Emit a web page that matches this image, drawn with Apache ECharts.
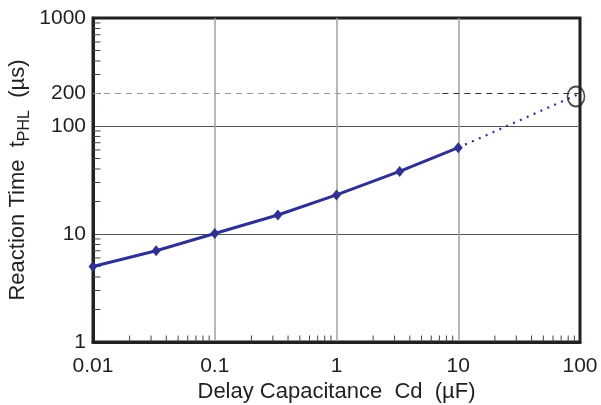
<!DOCTYPE html>
<html>
<head>
<meta charset="utf-8">
<script src="https://cdn.jsdelivr.net/npm/echarts@6/dist/echarts.min.js"></script>
<style>html,body{margin:0;padding:0;background:#fff}#c{width:601px;height:405px}</style>
</head>
<body>
<div id="c"></div>
<script>
// Measured data (Cd in µF, tPHL in µs)
const capacitance = [0.01, 0.033, 0.1, 0.33, 1, 3.3, 10];
const reactionTime = [5.0, 7.0, 10.1, 15.0, 23, 38, 63];
// Extrapolated (dotted) portion
const extrapCap = [10, 100];
const extrapTime = [63, 200];
// Highlighted point
const markCap = [100];
const markTime = [200];
// Reference level
const refLevel = 200;
const refSplit = 7.4;
// Axis labels
const xTickLabels = ['0.01', '0.1', '1', '10', '100'];
const yTickLabels = ['1', '10', '100', '1000'];
// Minor tick positions
const xDecades = [0.01, 0.1, 1, 10];
const yDecades = [1, 10, 100];
const minorMult = [2, 3, 4, 5, 6, 7, 8, 9];

const xMinor = [];
xDecades.forEach(d => minorMult.forEach(m => xMinor.push(+(d * m).toPrecision(6))));
const yMinor = [];
yDecades.forEach(d => minorMult.forEach(m => yMinor.push(+(d * m).toPrecision(6))));

const FONT = "'Liberation Sans', Arial, sans-serif";
const INK = '#231f20';
const BLUE = '#2e3192';

const chart = echarts.init(document.getElementById('c'));
const fmt = v => String(+(+v).toPrecision(6));

chart.setOption({
  animation: false,
  grid: {left: 93, right: 21, top: 18, bottom: 63, containLabel: false, outerBoundsMode: 'none',
    show: true, borderColor: INK, borderWidth: 3, backgroundColor: 'transparent'},
  xAxis: {
    type: 'log', logBase: 10, min: 0.01, max: 100,
    name: 'Delay Capacitance  Cd  (µF)',
    nameLocation: 'middle', nameGap: 39, nameMoveOverlap: false,
    nameTextStyle: {fontFamily: FONT, fontSize: 22, color: INK, lineHeight: 22},
    axisLine: {show: true, lineStyle: {color: INK, width: 3}},
    axisTick: {show: false},
    axisLabel: {fontFamily: FONT, fontSize: 21, color: INK, margin: 14, formatter: v => {
      const s = fmt(v); return xTickLabels.indexOf(s) >= 0 ? s : '';
    }, showMinLabel: true, showMaxLabel: true},
    splitLine: {show: true, showMinLine: false, showMaxLine: false, lineStyle: {color: '#a0a0a0', width: 1.5}},
    minorTick: {show: false}
  },
  yAxis: {
    type: 'log', logBase: 10, min: 1, max: 1000,
    name: 'Reaction Time  t{s|PHL}  (µs)',
    nameLocation: 'middle', nameGap: 60, nameRotate: 90, nameMoveOverlap: false,
    nameTextStyle: {fontFamily: FONT, fontSize: 22, color: INK, lineHeight: 30,
      rich: {s: {fontFamily: FONT, fontSize: 16, color: INK, lineHeight: 16, verticalAlign: 'bottom'}}},
    axisLine: {show: true, lineStyle: {color: INK, width: 3}},
    axisTick: {show: false},
    axisLabel: {fontFamily: FONT, fontSize: 21, color: INK, margin: 7, formatter: v => {
      const s = fmt(v); return yTickLabels.indexOf(s) >= 0 ? s : '';
    }, showMinLabel: true, showMaxLabel: true},
    splitLine: {show: true, showMinLine: false, showMaxLine: false, lineStyle: {color: '#555', width: 1}}
  },
  series: [
    {
      type: 'custom', name: 'xminor', silent: true, z: 3,
      data: xMinor.map(v => [v, 1]),
      renderItem: (params, api) => {
        const p = api.coord([api.value(0), api.value(1)]);
        return {type: 'line', shape: {x1: p[0], y1: p[1], x2: p[0], y2: p[1] - 6.5}, style: {stroke: '#444', lineWidth: 1}};
      }
    },
    {
      type: 'custom', name: 'yminor', silent: true, z: 3,
      data: yMinor.map(v => [0.01, v]),
      renderItem: (params, api) => {
        const p = api.coord([api.value(0), api.value(1)]);
        return {type: 'line', shape: {x1: p[0], y1: p[1], x2: p[0] + 7.5, y2: p[1]}, style: {stroke: '#444', lineWidth: 1}};
      }
    },
    {
      type: 'line', name: 'extrap', silent: true, z: 4,
      data: extrapCap.map((c, i) => [c, extrapTime[i]]),
      symbol: 'none',
      lineStyle: {color: BLUE, width: 2.2, type: [2, 5.5]},
      markLine: {
        silent: true, symbol: ['none', 'none'], animation: false,
        data: [
          [{coord: [0.01, refLevel], lineStyle: {color: '#9a9a9a', width: 1, type: [6, 5]},
            label: {show: true, position: 'start', formatter: String(refLevel), fontFamily: FONT, fontSize: 21, color: INK, distance: 7}},
           {coord: [refSplit, refLevel]}],
          [{coord: [refSplit, refLevel], lineStyle: {color: '#333', width: 1, type: [6, 5]}, label: {show: false}},
           {coord: [100, refLevel]}]
        ]
      }
    },
    {
      type: 'line', name: 'tPHL', silent: true, z: 5,
      data: capacitance.map((c, i) => [c, reactionTime[i]]),
      symbol: 'diamond', symbolSize: [9, 11], showSymbol: true,
      itemStyle: {color: BLUE},
      lineStyle: {color: BLUE, width: 3}
    },
    {
      type: 'scatter', name: 'mark', silent: true, z: 6,
      data: markCap.map((c, i) => [c, markTime[i]]),
      symbol: 'path://M0,1a1,1 0 1,0 2,0a1,1 0 1,0 -2,0z',
      symbolSize: [17, 20], symbolOffset: [-4, 3],
      itemStyle: {color: 'none', borderColor: INK, borderWidth: 1.8}
    }
  ]
});
</script>
</body>
</html>
